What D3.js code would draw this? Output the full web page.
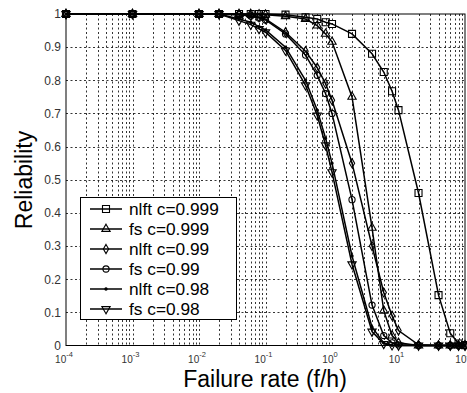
<!DOCTYPE html>
<html>
<head>
<meta charset="utf-8">
<script src="https://cdn.jsdelivr.net/npm/d3@7"></script>
<style>
  body { margin: 0; background: #fff; }
  svg { display: block; font-family: Arial, "Liberation Sans", sans-serif; }
</style>
</head>
<body>
<div id="chart"></div>
<script>
// failure rates (f/h) where each curve was sampled
const failureRates = [1e-4, 1e-3, 1e-2, 2e-2, 4e-2, 6e-2, 8e-2, 0.1, 0.2, 0.4, 0.6, 0.8, 1, 2, 4, 6, 8, 10, 20, 40, 60, 80, 100];

const nlft999 = [1, 1, 1, 1, 1, 1, 1, 1, 0.998, 0.99, 0.985, 0.975, 0.97, 0.94, 0.88, 0.825, 0.767, 0.71, 0.46, 0.152, 0.037, 0.006, 0.001];
const fs999   = [1, 1, 1, 1, 1, 1, 0.999, 0.998, 0.993, 0.985, 0.965, 0.94, 0.916, 0.75, 0.355, 0.105, 0.03, 0.008, 0, 0, 0, 0, 0];
const nlft99  = [1, 1, 1, 1, 0.998, 0.995, 0.99, 0.985, 0.945, 0.888, 0.838, 0.79, 0.74, 0.55, 0.30, 0.16, 0.09, 0.045, 0.002, 0, 0, 0, 0];
const fs99    = [1, 1, 1, 1, 0.998, 0.994, 0.988, 0.982, 0.94, 0.876, 0.815, 0.76, 0.70, 0.44, 0.122, 0.03, 0.008, 0.002, 0, 0, 0, 0, 0];
const nlft98  = [1, 1, 1, 1, 0.985, 0.975, 0.962, 0.952, 0.9, 0.8, 0.71, 0.625, 0.55, 0.27, 0.055, 0.008, 0.001, 0, 0, 0, 0, 0, 0];
const fs98    = [1, 1, 1, 1, 0.98, 0.968, 0.955, 0.945, 0.89, 0.785, 0.694, 0.604, 0.523, 0.245, 0.042, 0.005, 0.001, 0, 0, 0, 0, 0, 0];

const seriesNames = ["nlft c=0.999", "fs c=0.999", "nlft c=0.99", "fs c=0.99", "nlft c=0.98", "fs c=0.98"];
const seriesValues = [nlft999, fs999, nlft99, fs99, nlft98, fs98];
const seriesMarkers = ["square", "triangle", "diamond", "circle", "point", "triangleDown"];

const yTicks = [0, 0.1, 0.2, 0.3, 0.4, 0.5, 0.6, 0.7, 0.8, 0.9, 1];
const xDecades = [-4, -3, -2, -1, 0, 1, 2];

const width = 467, height = 393;
const plot = { left: 66, right: 465, top: 14, bottom: 345.5 };

const svg = d3.select("#chart").append("svg")
  .attr("width", width)
  .attr("height", height);

svg.append("rect").attr("width", width).attr("height", height).attr("fill", "#fff");

const x = d3.scaleLog().domain([1e-4, 1e2]).range([plot.left, plot.right]);
const y = d3.scaleLinear().domain([0, 1]).range([plot.bottom, plot.top]);

// grid: every log subdivision vertically, every 0.1 horizontally
const minorX = [];
xDecades.slice(0, -1).forEach(e => {
  for (let k = 1; k <= 9; k++) minorX.push(k * Math.pow(10, e));
});

const grid = svg.append("g")
  .attr("stroke", "#000")
  .attr("stroke-width", 0.8)
  .attr("stroke-dasharray", "2,2.5");

grid.selectAll("line.vx").data(minorX.filter(v => v > 1e-4 && v < 1e2)).join("line")
  .attr("class", "vx")
  .attr("x1", d => Math.round(x(d)) + 0.5).attr("x2", d => Math.round(x(d)) + 0.5)
  .attr("y1", plot.top).attr("y2", plot.bottom);

grid.selectAll("line.hy").data(yTicks.filter(v => v > 0 && v < 1)).join("line")
  .attr("class", "hy")
  .attr("x1", plot.left).attr("x2", plot.right)
  .attr("y1", d => Math.round(y(d)) + 0.5).attr("y2", d => Math.round(y(d)) + 0.5);

// axis box
svg.append("rect")
  .attr("x", plot.left).attr("y", plot.top)
  .attr("width", plot.right - plot.left).attr("height", plot.bottom - plot.top)
  .attr("fill", "none").attr("stroke", "#000").attr("stroke-width", 1);

// y tick labels
svg.append("g").selectAll("text").data(yTicks).join("text")
  .attr("x", 61)
  .attr("y", d => y(d))
  .attr("dy", "0.36em")
  .attr("text-anchor", "end")
  .attr("font-size", 12)
  .attr("fill", "#333")
  .text(d => d === 0 || d === 1 ? String(d) : d.toFixed(1));

// x tick labels as 10^n
const xl = svg.append("g").selectAll("text").data(xDecades).join("text")
  .attr("x", d => x(Math.pow(10, d)) - 2)
  .attr("y", 363)
  .attr("text-anchor", "middle")
  .attr("font-size", 10)
  .attr("fill", "#333");
xl.append("tspan").text("10");
xl.append("tspan").attr("dy", -6).attr("font-size", 7.5).text(d => d);

// axis titles
svg.append("text")
  .attr("x", 265).attr("y", 387)
  .attr("text-anchor", "middle")
  .attr("font-size", 23)
  .text("Failure rate (f/h)");

svg.append("text")
  .attr("transform", "translate(32,180) rotate(-90)")
  .attr("text-anchor", "middle")
  .attr("font-size", 23)
  .text("Reliability");

// marker shapes
function marker(sel, type) {
  const sym = {
    square: d3.symbol(d3.symbolSquare, 49),
    triangle: d3.symbol(d3.symbolTriangle, 30),
    triangleDown: d3.symbol(d3.symbolTriangle, 30),
    diamond: d3.symbol(d3.symbolDiamond, 24),
    circle: d3.symbol(d3.symbolCircle, 30),
    point: d3.symbol(d3.symbolCircle, 4)
  }[type];
  sel.append("path")
    .attr("d", sym)
    .attr("transform", type === "triangleDown" ? "rotate(180)" : null)
    .attr("fill", type === "point" ? "#000" : "none")
    .attr("stroke", "#000")
    .attr("stroke-width", 1.1);
}

const line = d3.line()
  .x(d => x(d[0]))
  .y(d => y(d[1]));

const curves = svg.append("g");
seriesValues.forEach((vals, i) => {
  const pts = failureRates.map((f, j) => [f, vals[j]]);
  curves.append("path")
    .datum(pts)
    .attr("fill", "none")
    .attr("stroke", "#000")
    .attr("stroke-width", 1.5)
    .attr("d", line);
  curves.append("g").selectAll("g").data(pts).join("g")
    .attr("transform", d => `translate(${x(d[0])},${y(d[1])})`)
    .each(function () { marker(d3.select(this), seriesMarkers[i]); });
});

// legend
const legend = svg.append("g");
legend.append("rect")
  .attr("x", 80.5).attr("y", 197.5)
  .attr("width", 156).attr("height", 122)
  .attr("fill", "#fff").attr("stroke", "#000").attr("stroke-width", 1);

seriesNames.forEach((name, i) => {
  const ry = 209 + i * 20;
  legend.append("line")
    .attr("x1", 90).attr("x2", 122)
    .attr("y1", ry).attr("y2", ry)
    .attr("stroke", "#000").attr("stroke-width", 1.5);
  const g = legend.append("g").attr("transform", `translate(106,${ry})`);
  marker(g, seriesMarkers[i]);
  legend.append("text")
    .attr("x", 129).attr("y", ry)
    .attr("dy", "0.36em")
    .attr("font-size", 17.3)
    .text(name);
});
</script>
</body>
</html>
